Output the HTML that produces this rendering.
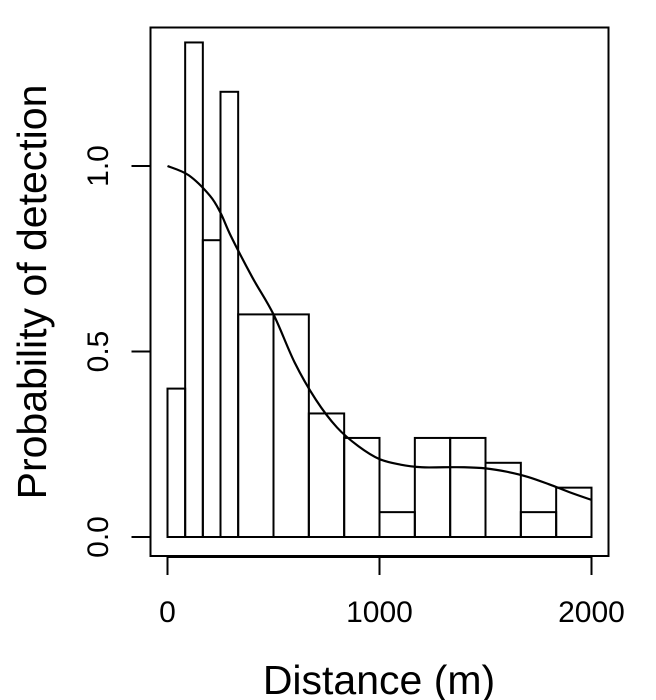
<!DOCTYPE html>
<html><head><meta charset="utf-8"><style>
html,body{margin:0;padding:0;background:#fff;}
svg{display:block;font-family:"Liberation Sans",Arial,sans-serif;}
</style></head><body>
<svg id="chart" width="656" height="700" viewBox="0 0 656 700" xmlns="http://www.w3.org/2000/svg">
<rect x="150.5" y="27.5" width="458" height="528.5" fill="none" stroke="#000" stroke-width="2"/>
<g id="bars"></g>
<g id="curve"></g>
<g id="axes"></g>
<text x="379" y="694" font-size="41" text-anchor="middle">Distance (m)</text>
<text transform="translate(46,292) rotate(-90)" font-size="41" text-anchor="middle">Probability of detection</text>
</svg>
<script>
const binEdges = [0, 83.33, 166.67, 250, 333.33, 500, 666.67, 833.33, 1000, 1166.67, 1333.33, 1500, 1666.67, 1833.33, 2000];
const binHeights = [0.4, 1.333, 0.8, 1.2, 0.6, 0.6, 0.333, 0.267, 0.067, 0.267, 0.267, 0.2, 0.067, 0.133];
const curveX = [0, 100, 200, 250, 300, 400, 500, 600, 700, 800, 900, 1000, 1100, 1200, 1300, 1400, 1500, 1600, 1700, 1800, 1900, 2000];
const curveY = [1.0, 0.975, 0.92, 0.874, 0.81, 0.70, 0.60, 0.47, 0.37, 0.295, 0.245, 0.21, 0.195, 0.188, 0.188, 0.188, 0.185, 0.176, 0.162, 0.142, 0.12, 0.10];
const xTicks = [0, 1000, 2000];
const yTicks = [0.0, 0.5, 1.0];
const yTickLabels = ["0.0", "0.5", "1.0"];

const NS = "http://www.w3.org/2000/svg";
const xs = d => 167.5 + d * (591.5 - 167.5) / 2000;
const ys = v => 537 - v * 371;
function mk(tag, attrs, parent) {
  const e = document.createElementNS(NS, tag);
  for (const k in attrs) e.setAttribute(k, attrs[k]);
  parent.appendChild(e);
  return e;
}
const bars = document.getElementById('bars');
binHeights.forEach((h, i) => {
  const x0 = xs(binEdges[i]), x1 = xs(binEdges[i + 1]);
  const r = mk('rect', {x: x0, y: ys(h), width: x1 - x0, height: ys(0) - ys(h), fill: 'none', stroke: '#000', 'stroke-width': 2}, bars);
  
  
});
const pts = curveX.map((d, i) => [xs(d), ys(curveY[i])]);
let dstr = `M${pts[0][0]},${pts[0][1]}`;
for (let i = 0; i < pts.length - 1; i++) {
  const p0 = pts[Math.max(0, i - 1)], p1 = pts[i], p2 = pts[i + 1], p3 = pts[Math.min(pts.length - 1, i + 2)];
  const c1 = [p1[0] + (p2[0] - p0[0]) / 6, p1[1] + (p2[1] - p0[1]) / 6];
  const c2 = [p2[0] - (p3[0] - p1[0]) / 6, p2[1] - (p3[1] - p1[1]) / 6];
  dstr += ` C${c1[0]},${c1[1]} ${c2[0]},${c2[1]} ${p2[0]},${p2[1]}`;
}
const cp = mk('path', {d: dstr, fill: 'none', stroke: '#000', 'stroke-width': 2.2}, document.getElementById('curve'));



const axes = document.getElementById('axes');
const xl = mk('line', {x1: xs(xTicks[0]), x2: xs(xTicks[xTicks.length - 1]), y1: 557, y2: 557, stroke: '#000', 'stroke-width': 2}, axes);


xTicks.forEach(t => {
  const l = mk('line', {x1: xs(t), x2: xs(t), y1: 557, y2: 575, stroke: '#000', 'stroke-width': 2}, axes);
  
  
  const tx = mk('text', {x: xs(t), y: 622, 'font-size': 30, 'text-anchor': 'middle'}, axes);
  tx.textContent = String(t);
  
  
});
yTicks.forEach((t, i) => {
  const l = mk('line', {x1: 131.5, x2: 150.5, y1: ys(t), y2: ys(t), stroke: '#000', 'stroke-width': 2}, axes);
  
  
  const tx = mk('text', {transform: `translate(108,${ys(t)}) rotate(-90)`, 'font-size': 30, 'text-anchor': 'middle'}, axes);
  tx.textContent = yTickLabels[i];
  
  
});
</script>
</body></html>
